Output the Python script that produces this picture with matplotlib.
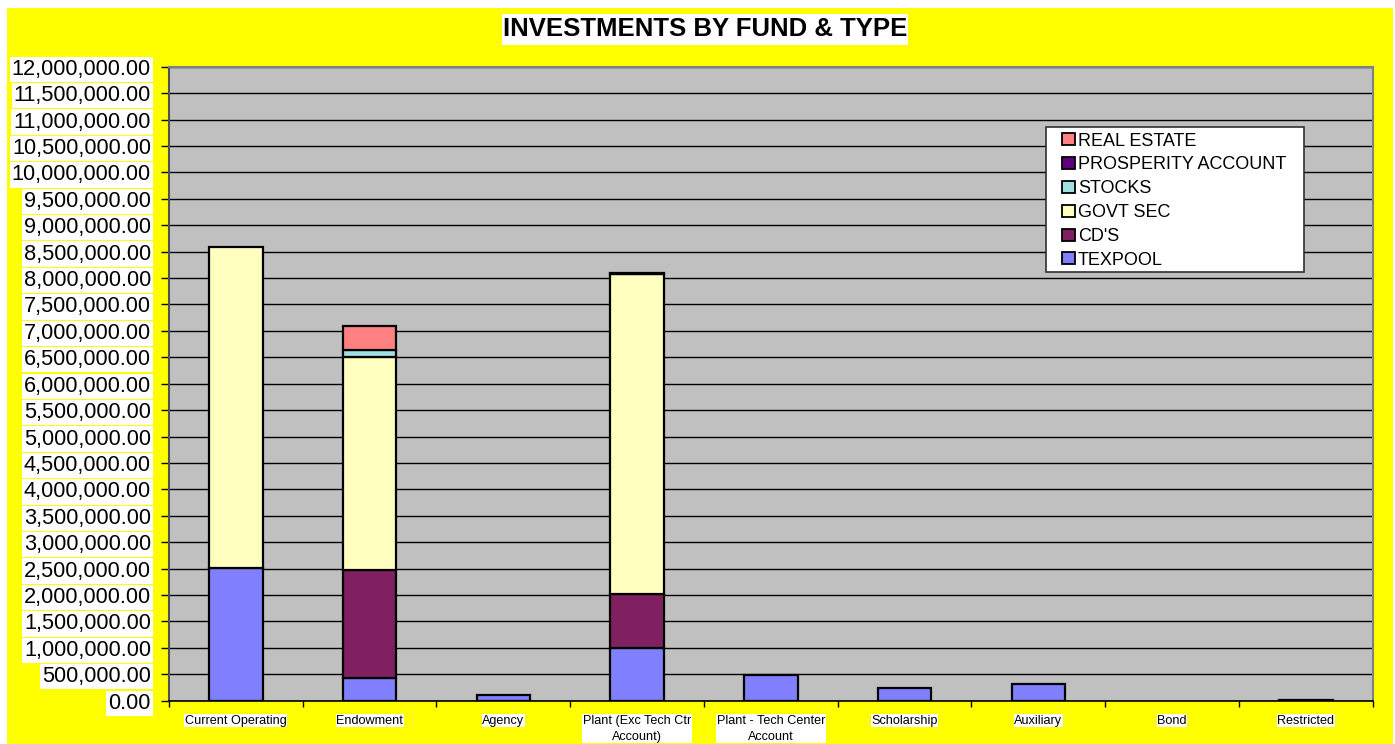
import matplotlib
matplotlib.use("Agg")
import matplotlib.pyplot as plt
import numpy as np
from matplotlib.patches import Rectangle, Patch
from matplotlib.ticker import FuncFormatter, MultipleLocator

plt.rcParams['font.family'] = ['Liberation Sans', 'DejaVu Sans']

categories = ["Current Operating", "Endowment", "Agency", "Plant (Exc Tech Ctr\nAccount)",
              "Plant - Tech Center\nAccount", "Scholarship", "Auxiliary", "Bond", "Restricted"]
texpool     = [2510000, 436000, 114000, 990000, 487000, 235000, 320000, 0, 15000]
cds         = [0, 2030000, 0, 1030000, 0, 0, 0, 0, 0]
govt_sec    = [6085000, 4035000, 0, 6050000, 0, 0, 0, 0, 0]
stocks      = [0, 135000, 0, 30000, 0, 0, 0, 0, 0]
prosperity  = [0, 0, 0, 0, 0, 0, 0, 0, 0]
real_estate = [0, 465000, 0, 0, 0, 0, 0, 0, 0]

series = [("TEXPOOL", texpool, "#8080FF"),
          ("CD'S", cds, "#802060"),
          ("GOVT SEC", govt_sec, "#FFFFC0"),
          ("STOCKS", stocks, "#A0E0E0"),
          ("PROSPERITY ACCOUNT", prosperity, "#600080"),
          ("REAL ESTATE", real_estate, "#FF8080")]

W, H = 1395, 744
fig = plt.figure(figsize=(W / 100, H / 100), dpi=100, facecolor="white")

# yellow chart area
fig.patches.append(Rectangle((7 / W, 0), (1393 - 7) / W, (744 - 8) / H,
                             transform=fig.transFigure, facecolor="#FFFF00",
                             edgecolor="none", zorder=-5))

ax = fig.add_axes([169 / W, 1 - 700.7 / H, (1372.7 - 169) / W, (700.7 - 66.7) / H])
ax.set_zorder(1)
ax.set_facecolor("#C0C0C0")

x = np.arange(len(categories))
bottom = np.zeros(len(categories))
for name, vals, col in series:
    v = np.array(vals, dtype=float)
    lw = np.where(v > 0, 1.6, 0.0)
    ax.bar(x, v, width=0.4, bottom=bottom, color=col, edgecolor="black",
           linewidth=lw, zorder=3)
    bottom += v

ax.set_xlim(-0.5, len(categories) - 0.5)
ax.set_ylim(0, 12000000)
ax.yaxis.set_major_locator(MultipleLocator(500000))
ax.yaxis.set_major_formatter(FuncFormatter(lambda v, p: f"{v:,.2f}"))
ax.grid(axis="y", color="black", linewidth=1, zorder=1)
ax.set_axisbelow(True)

ax.set_xticks(x)
ax.set_xticklabels(categories, fontsize=9.1)
ax.set_xticks(np.arange(len(categories) + 1) - 0.5, minor=True)
ax.tick_params(axis="x", which="major", length=0, pad=10)
ax.tick_params(axis="x", which="minor", length=4, width=1, direction="out")
ax.tick_params(axis="y", length=6, width=1, direction="out", pad=7, labelsize=15.7)

for lab in ax.get_yticklabels():
    lab.set_bbox(dict(facecolor="white", edgecolor="none", pad=1.5))
for lab in ax.get_xticklabels():
    lab.set_bbox(dict(facecolor="white", edgecolor="none", pad=0.5))
    lab.set_linespacing(1.45)

for s in ["top", "right"]:
    ax.spines[s].set_color("#808080")
    ax.spines[s].set_linewidth(1.5)
ax.spines["left"].set_color("#505050")
ax.spines["left"].set_linewidth(1.5)
ax.spines["bottom"].set_color("black")
ax.spines["bottom"].set_linewidth(1.2)

# title
fig.patches.append(Rectangle((502 / W, 1 - 45 / H), 406 / W, 31 / H,
                             transform=fig.transFigure, facecolor="white",
                             edgecolor="none", zorder=2))
fig.text(705 / W, 1 - 36 / H, "INVESTMENTS BY FUND & TYPE", ha="center",
         va="baseline", fontsize=18.5, fontweight="bold", zorder=3)

# legend
fig.patches.append(Rectangle((1046 / W, 1 - 271.7 / H), (1304 - 1046) / W, (271.7 - 126.7) / H,
                             transform=fig.transFigure, facecolor="white",
                             edgecolor="#303030", linewidth=1.2, zorder=4))
handles = [Patch(facecolor=col, edgecolor="black", linewidth=1.3, label=name)
           for name, vals, col in series][::-1]
leg = fig.legend(handles=handles, loc="upper left",
                 bbox_to_anchor=(1062 / W, 1 - 132.5 / H), bbox_transform=fig.transFigure,
                 frameon=False, fontsize=13, borderpad=0, handlelength=0.72,
                 handleheight=0.65, handletextpad=0.15, labelspacing=0.38, borderaxespad=0)
leg.set_zorder(6)

fig.savefig("out.png", dpi=100, facecolor=fig.get_facecolor())
